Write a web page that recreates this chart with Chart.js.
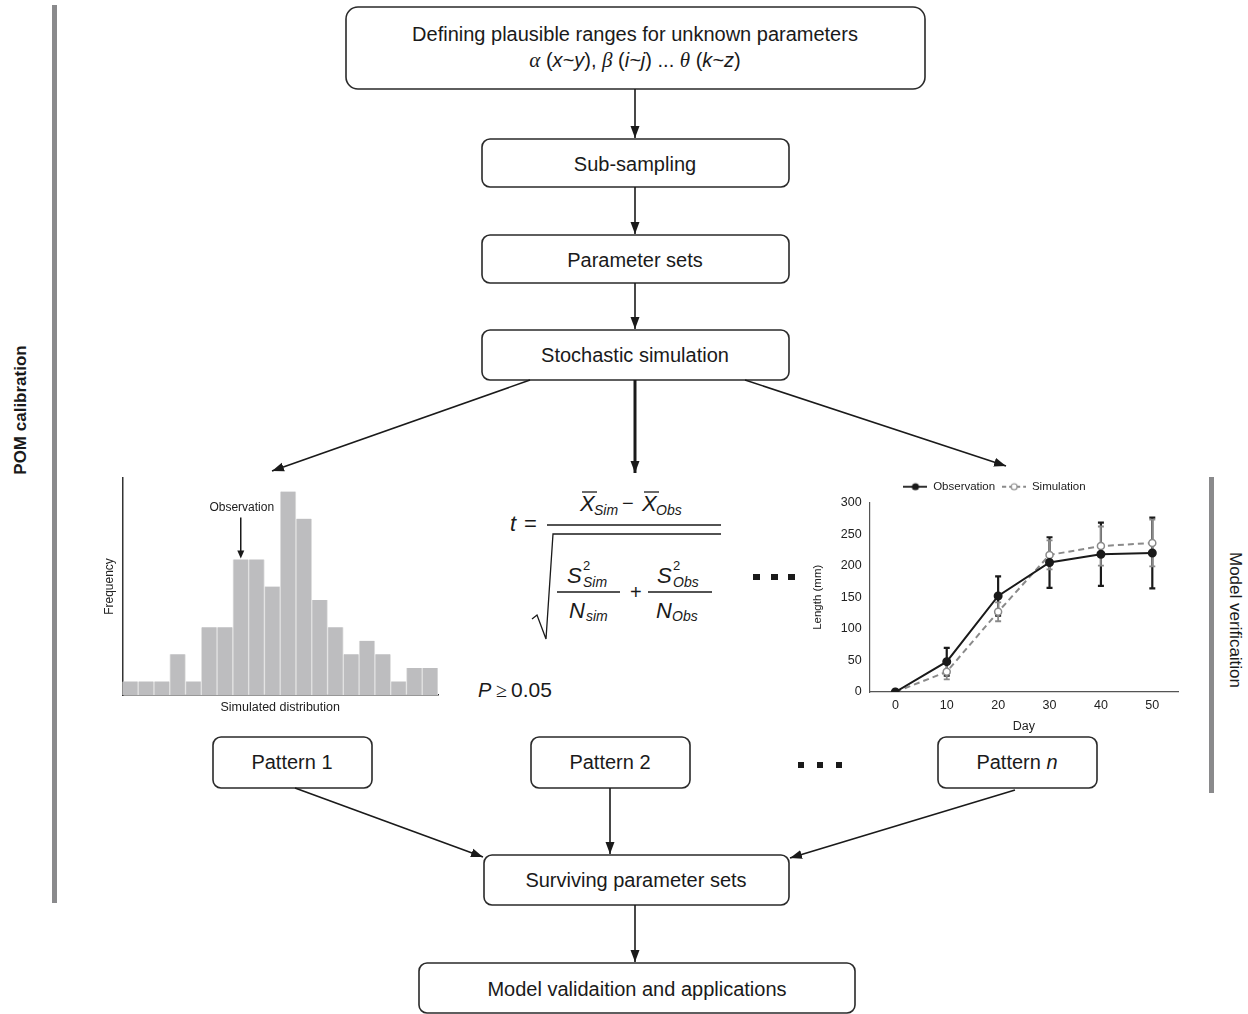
<!DOCTYPE html>
<html>
<head>
<meta charset="utf-8">
<script src="https://cdn.jsdelivr.net/npm/chart.js@4.4.1/dist/chart.umd.min.js"></script>
<style>
  body { margin: 0; background: #fff; }
  #wrap { position: relative; width: 1248px; height: 1014px; overflow: hidden; font-family: "Liberation Sans", Arial, sans-serif; }
  #flow { position: absolute; left: 0; top: 0; }
  .chartbox { position: absolute; }
</style>
</head>
<body>
<div id="wrap">
<svg id="flow" width="1248" height="1014" xmlns="http://www.w3.org/2000/svg" font-family="Liberation Sans, Arial, sans-serif" fill="#1a1a1a">
  <defs>
    <marker id="ah" viewBox="0 0 12 10" refX="12" refY="5" markerWidth="12" markerHeight="10" markerUnits="userSpaceOnUse" orient="auto">
      <path d="M0,0.5 L12,5 L0,9.5 z" fill="#1a1a1a"/>
    </marker>
  </defs>

  <!-- side bars -->
  <rect x="52" y="5" width="5" height="898" fill="#8a8a8c"/>
  <rect x="1209" y="477" width="5" height="316" fill="#8a8a8c"/>
  <text transform="translate(26,410) rotate(-90)" text-anchor="middle" font-size="17" font-weight="bold">POM calibration</text>
  <text transform="translate(1230,620) rotate(90)" text-anchor="middle" font-size="17">Model verificaition</text>

  <!-- boxes -->
  <g fill="#fff" stroke="#2a2a2a" stroke-width="1.6">
    <rect x="346" y="7" width="579" height="82" rx="12"/>
    <rect x="482" y="139" width="307" height="48" rx="8"/>
    <rect x="482" y="235" width="307" height="48" rx="8"/>
    <rect x="482" y="330" width="307" height="50" rx="8"/>
    <rect x="213" y="737" width="159" height="51" rx="8"/>
    <rect x="531" y="737" width="159" height="51" rx="8"/>
    <rect x="938" y="737" width="159" height="51" rx="8"/>
    <rect x="484" y="855" width="305" height="50" rx="8"/>
    <rect x="419" y="963" width="436" height="50" rx="8"/>
  </g>

  <g font-size="20" text-anchor="middle">
    <text x="635" y="41">Defining plausible ranges for unknown parameters</text>
    <text x="635" y="67"><tspan font-family="Liberation Serif, serif" font-style="italic" font-size="21">α</tspan> (<tspan font-style="italic">x~y</tspan>), <tspan font-family="Liberation Serif, serif" font-style="italic" font-size="21">β</tspan> (<tspan font-style="italic">i~j</tspan>) ... <tspan font-family="Liberation Serif, serif" font-style="italic" font-size="21">θ</tspan> (<tspan font-style="italic">k~z</tspan>)</text>
    <text x="635" y="171">Sub-sampling</text>
    <text x="635" y="267">Parameter sets</text>
    <text x="635" y="362">Stochastic simulation</text>
    <text x="292" y="769">Pattern 1</text>
    <text x="610" y="769">Pattern 2</text>
    <text x="1017" y="769">Pattern <tspan font-style="italic">n</tspan></text>
    <text x="636" y="887">Surviving parameter sets</text>
    <text x="637" y="996">Model validaition and applications</text>
  </g>

  <!-- arrows -->
  <g stroke="#1a1a1a" stroke-width="1.6" fill="none" marker-end="url(#ah)">
    <line x1="635" y1="89" x2="635" y2="138"/>
    <line x1="635" y1="187" x2="635" y2="234"/>
    <line x1="635" y1="283" x2="635" y2="329"/>
    <line x1="530" y1="380" x2="272" y2="471"/>
    <line x1="635" y1="380" x2="635" y2="473" stroke-width="3"/>
    <line x1="745" y1="380" x2="1006" y2="466"/>
    <line x1="295" y1="788" x2="483" y2="857"/>
    <line x1="610" y1="788" x2="610" y2="854"/>
    <line x1="1015" y1="790" x2="790" y2="858"/>
    <line x1="635" y1="905" x2="635" y2="962"/>
  </g>

  <!-- ellipsis dots -->
  <g fill="#1a1a1a">
    <rect x="753" y="574" width="7" height="6"/>
    <rect x="771" y="574" width="7" height="6"/>
    <rect x="788" y="574" width="7" height="6"/>
    <rect x="798" y="762" width="6" height="6"/>
    <rect x="817" y="762" width="6" height="6"/>
    <rect x="836" y="762" width="6" height="6"/>
  </g>

  <!-- t-test formula -->
  <g font-style="italic">
    <text x="510" y="531" font-size="22">t</text>
    <text x="524" y="531" font-size="22" font-style="normal">=</text>
    <text x="580" y="511" font-size="22">X</text>
    <text x="594" y="515" font-size="14">Sim</text>
    <text x="622" y="510" font-size="20" font-style="normal">−</text>
    <text x="642" y="511" font-size="22">X</text>
    <text x="656" y="515" font-size="14">Obs</text>
    <text x="567" y="583" font-size="22">S</text>
    <text x="583" y="570" font-size="13" font-style="normal">2</text>
    <text x="583" y="587" font-size="14">Sim</text>
    <text x="569" y="618" font-size="22">N</text>
    <text x="586" y="621" font-size="14">sim</text>
    <text x="630" y="599" font-size="20" font-style="normal">+</text>
    <text x="657" y="583" font-size="22">S</text>
    <text x="673" y="570" font-size="13" font-style="normal">2</text>
    <text x="673" y="587" font-size="14">Obs</text>
    <text x="656" y="618" font-size="22">N</text>
    <text x="672" y="621" font-size="14">Obs</text>
    <text x="478" y="697" font-size="20">P</text>
    <text x="496" y="697" font-size="20" font-style="normal" font-family="Liberation Serif, serif">≥</text>
    <text x="511" y="697" font-size="21" font-style="normal">0.05</text>
  </g>
  <g stroke="#1a1a1a" fill="none">
    <line x1="582" y1="492" x2="597" y2="492" stroke-width="1.3"/>
    <line x1="644" y1="492" x2="659" y2="492" stroke-width="1.3"/>
    <line x1="547" y1="525" x2="721" y2="525" stroke-width="1.5"/>
    <polyline points="532,619 537,615 546,639 553,534 721,534" stroke-width="1.3"/>
    <line x1="557" y1="592" x2="620" y2="592" stroke-width="1.3"/>
    <line x1="648" y1="592" x2="712" y2="592" stroke-width="1.3"/>
  </g>
</svg>

<div class="chartbox" style="left:95px;top:470px;width:352px;height:250px"><canvas id="hist"></canvas></div>
<div class="chartbox" style="left:805px;top:474px;width:390px;height:262px"><canvas id="growth"></canvas></div>
</div>

<script>
// histogram of simulated values
const bins = ['1','2','3','4','5','6','7','8','9','10','11','12','13','14','15','16','17','18','19','20'];
const frequency = [1, 1, 1, 3, 1, 5, 5, 10, 10, 8, 15, 13, 7, 5, 3, 4, 3, 1, 2, 2];
const observedBin = 7;

// growth pattern
const days = [0, 10, 20, 30, 40, 50];
const obsLength = [0, 48, 152, 205, 218, 220];
const obsSd = [0, 22, 31, 40, 50, 56];
const simLength = [0, 32, 127, 217, 231, 236];
const simSd = [0, 12, 15, 23, 31, 37];
const lengthTicks = [0, 50, 100, 150, 200, 250, 300];

Chart.defaults.font.family = '"Liberation Sans", Arial, sans-serif';
Chart.defaults.color = '#222';

// arrow + label pointing at the observed bin
const observationMarker = {
  id: 'observationMarker',
  afterDatasetsDraw(chart) {
    const ctx = chart.ctx;
    const x = chart.scales.x.getPixelForValue(observedBin);
    const top = chart.scales.y.getPixelForValue(frequency[observedBin]);
    ctx.save();
    ctx.strokeStyle = '#1a1a1a';
    ctx.fillStyle = '#1a1a1a';
    ctx.lineWidth = 1.5;
    ctx.beginPath();
    ctx.moveTo(x, top - 42);
    ctx.lineTo(x, top - 8);
    ctx.stroke();
    ctx.beginPath();
    ctx.moveTo(x - 3.5, top - 9);
    ctx.lineTo(x + 3.5, top - 9);
    ctx.lineTo(x, top - 1);
    ctx.closePath();
    ctx.fill();
    ctx.font = '12px "Liberation Sans", Arial, sans-serif';
    ctx.textAlign = 'center';
    ctx.textBaseline = 'middle';
    ctx.fillText('Observation', x + 1, top - 52);
    ctx.restore();
  }
};

new Chart(document.getElementById('hist'), {
  type: 'bar',
  data: {
    labels: bins,
    datasets: [{
      data: frequency,
      backgroundColor: '#bdbdbf',
      borderColor: '#e2e2e2',
      borderWidth: { left: 1, right: 1, top: 0, bottom: 0 },
      barPercentage: 1,
      categoryPercentage: 1
    }]
  },
  options: {
    responsive: true,
    maintainAspectRatio: false,
    animation: false,
    layout: { padding: { left: 7, right: 9, top: 8, bottom: 5 } },
    plugins: { legend: { display: false }, tooltip: { enabled: false } },
    scales: {
      x: {
        grid: { display: false, drawTicks: false },
        border: { color: '#333', width: 1.5 },
        ticks: { display: false },
        title: { display: true, text: 'Simulated distribution', font: { size: 12.5 }, padding: { top: 5, bottom: 0 } }
      },
      y: {
        min: 0,
        max: 16,
        grid: { display: false, drawTicks: false },
        border: { color: '#333', width: 1.5 },
        ticks: { display: false },
        title: { display: true, text: 'Frequency', font: { size: 12 }, padding: { top: 0, bottom: 6 } }
      }
    }
  },
  plugins: [observationMarker]
});

// vertical error bars with caps, read from dataset.sd
const errorBars = {
  id: 'errorBars',
  beforeDatasetsDraw(chart) {
    const ctx = chart.ctx;
    const xs = chart.scales.x, ys = chart.scales.y;
    ctx.save();
    chart.data.datasets.forEach(ds => {
      ctx.strokeStyle = ds.borderColor;
      ctx.lineWidth = ds.errorWidth;
      ds.data.forEach((p, i) => {
        const sd = ds.sd[i];
        if (!sd) return;
        const x = xs.getPixelForValue(p.x);
        const lo = ys.getPixelForValue(p.y - sd);
        const hi = ys.getPixelForValue(p.y + sd);
        ctx.beginPath();
        ctx.moveTo(x, lo); ctx.lineTo(x, hi);
        ctx.moveTo(x - 3, lo); ctx.lineTo(x + 3, lo);
        ctx.moveTo(x - 3, hi); ctx.lineTo(x + 3, hi);
        ctx.stroke();
      });
    });
    ctx.restore();
  }
};

function legendIcon(color, dash, filled) {
  const c = document.createElement('canvas');
  c.width = 24; c.height = 10;
  const g = c.getContext('2d');
  g.strokeStyle = color;
  g.lineWidth = 1.8;
  g.setLineDash(dash);
  g.beginPath(); g.moveTo(0, 5); g.lineTo(24, 5); g.stroke();
  g.setLineDash([]);
  g.beginPath(); g.arc(12, 5, 3, 0, Math.PI * 2);
  g.fillStyle = filled ? color : '#fff';
  g.fill();
  g.lineWidth = 1.2;
  g.stroke();
  return c;
}

new Chart(document.getElementById('growth'), {
  type: 'line',
  data: {
    datasets: [
      {
        label: 'Observation',
        data: days.map((d, i) => ({ x: d, y: obsLength[i] })),
        sd: obsSd,
        errorWidth: 2.2,
        borderColor: '#1a1a1a',
        borderWidth: 2,
        pointRadius: 3.5,
        pointBackgroundColor: '#1a1a1a',
        pointBorderColor: '#1a1a1a'
      },
      {
        label: 'Simulation',
        data: days.map((d, i) => ({ x: d, y: simLength[i] })),
        sd: simSd,
        errorWidth: 1.8,
        borderColor: '#8a8a8a',
        borderWidth: 2,
        borderDash: [6, 4],
        pointRadius: 3.5,
        pointBackgroundColor: '#fff',
        pointBorderColor: '#8a8a8a',
        pointBorderWidth: 1.5
      }
    ]
  },
  options: {
    responsive: true,
    maintainAspectRatio: false,
    animation: false,
    layout: { padding: { left: 6, right: 17, top: 0, bottom: 2 } },
    plugins: {
      tooltip: { enabled: false },
      legend: {
        position: 'top',
        labels: {
          usePointStyle: true,
          pointStyleWidth: 24,
          boxHeight: 10,
          padding: 7,
          font: { size: 11.5 },
          color: '#222',
          generateLabels(chart) {
            const items = Chart.defaults.plugins.legend.labels.generateLabels(chart);
            items[0].pointStyle = legendIcon('#1a1a1a', [], true);
            items[1].pointStyle = legendIcon('#8a8a8a', [4, 3], false);
            return items;
          }
        }
      }
    },
    scales: {
      x: {
        type: 'linear',
        min: -5,
        max: 55,
        afterBuildTicks: s => { s.ticks = days.map(v => ({ value: v })); },
        grid: { display: false, drawTicks: false },
        border: { color: '#555', width: 1.2 },
        ticks: { font: { size: 12.5 }, padding: 6, color: '#222' },
        title: { display: true, text: 'Day', font: { size: 12.5 }, padding: { top: 0, bottom: 0 } }
      },
      y: {
        min: 0,
        max: 300,
        afterBuildTicks: s => { s.ticks = lengthTicks.map(v => ({ value: v })); },
        grid: { display: false, drawTicks: false },
        border: { color: '#555', width: 1.2 },
        ticks: { font: { size: 12.5 }, padding: 8, color: '#222' },
        title: { display: true, text: 'Length (mm)', font: { size: 11.5 }, padding: { top: 0, bottom: 8 } }
      }
    }
  },
  plugins: [errorBars]
});
</script>
</body>
</html>
